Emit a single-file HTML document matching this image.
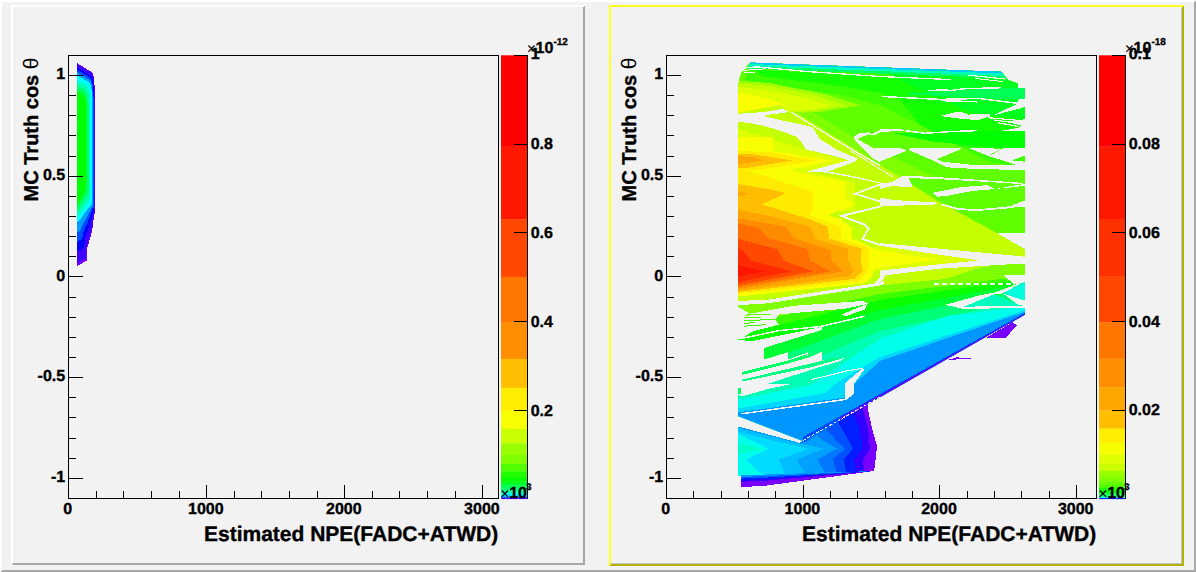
<!DOCTYPE html>
<html><head><meta charset="utf-8"><title>c1</title>
<style>html,body{margin:0;padding:0;background:#f2f2f2;overflow:hidden}svg{display:block}text{stroke:#000;stroke-width:.35px}.n{stroke-width:0}</style>
</head><body>
<svg width="1196" height="572" viewBox="0 0 1196 572" font-family="'Liberation Sans', sans-serif" font-weight="bold" fill="#000" text-rendering="geometricPrecision">
<rect x="0" y="0" width="1196" height="572" fill="#f2f2f2"/>
<g shape-rendering="crispEdges">
<polygon points="0,572 2,570 1194,570 1196,572" fill="#a8a8a8"/>
<polygon points="1196,0 1196,572 1194,570 1194,2" fill="#a8a8a8"/>
<polygon points="0,0 1196,0 1194,2 2,2" fill="#ffffff"/>
<polygon points="0,0 2,2 2,570 0,572" fill="#ffffff"/>
<polygon points="11,565 13,563 583,563 585,565" fill="#a8a8a8"/>
<polygon points="585,5 585,565 583,563 583,7" fill="#a8a8a8"/>
<polygon points="11,5 585,5 583,7 13,7" fill="#ffffff"/>
<polygon points="11,5 13,7 13,563 11,565" fill="#ffffff"/>
<polygon points="609,566 611,564 1182,564 1184,566" fill="#b4b400"/>
<polygon points="1184,5 1184,566 1182,564 1182,7" fill="#b4b400"/>
<polygon points="609,5 1184,5 1182,7 611,7" fill="#ffff1e"/>
<polygon points="609,5 611,7 611,564 609,566" fill="#ffff1e"/>
<rect x="1181" y="8" width="1" height="556" fill="#c2c2d2"/><rect x="611" y="563" width="571" height="1" fill="#c2c2d2"/>
</g>
<g shape-rendering="crispEdges">
<polygon points="77.0,63.0 92.6,72.8 94.0,78.0 95.2,95.0 95.2,213.0 94.0,215.0 93.0,226.0 91.0,236.0 89.0,242.0 87.0,249.0 87.0,260.5 77.0,266.0" fill="#6e00ff"/>
<polygon points="77.0,63.8 92.4,73.5 93.8,78.8 95.0,95.3 95.0,212.3 93.8,214.3 92.6,224.9 90.5,234.5 88.5,240.2 86.5,246.9 86.4,257.7 77.0,262.9" fill="#3c00ff"/>
<polygon points="77.0,67.0 91.7,76.2 93.2,81.6 94.2,96.7 94.2,209.7 93.0,211.7 91.0,220.7 88.7,228.7 86.7,233.8 84.7,239.1 84.2,247.5 77.0,251.5" fill="#0000ff"/>
<polygon points="77.0,69.6 91.2,78.4 92.6,84.0 93.6,97.8 93.6,207.5 92.3,209.5 89.7,217.2 87.2,223.9 85.2,228.2 83.2,232.5 82.3,238.8 77.0,241.8" fill="#004cff"/>
<polygon points="77.0,72.1 90.6,80.6 92.1,86.4 93.0,98.8 93.0,205.4 91.7,207.4 88.4,213.8 85.7,219.3 83.7,223.0 81.7,226.2 80.5,230.5 77.0,232.6" fill="#009dff"/>
<polygon points="77.0,75.0 90.0,83.0 91.5,89.0 92.3,100.0 92.3,203.0 91.0,205.0 87.0,210.0 84.0,214.0 82.0,217.0 80.0,219.0 78.5,221.0 77.0,222.0" fill="#00ffff"/>
<polygon points="77.0,80.1 87.9,86.6 89.5,92.0 90.4,101.5 90.4,198.5 88.9,201.1 85.5,205.8 83.1,209.2 81.4,211.9 79.7,213.9 78.3,215.9 77.0,216.9" fill="#00ffb7"/>
<polygon points="77.0,85.2 85.8,90.2 87.6,95.0 88.5,103.0 88.5,194.0 86.8,197.2 84.0,201.6 82.2,204.4 80.8,206.8 79.4,208.8 78.2,210.8 77.0,211.8" fill="#00ff6f"/>
<polygon points="77.0,89.5 84.0,93.2 86.0,97.5 86.9,104.2 86.9,190.2 85.0,193.9 82.8,198.1 81.5,200.4 80.3,202.6 79.2,204.6 78.1,206.6 77.0,207.6" fill="#00ff33"/>
<polygon points="77.0,92.0 83.0,95.0 85.0,99.0 86.0,105.0 86.0,188.0 84.0,192.0 82.0,196.0 81.0,198.0 80.0,200.0 79.0,202.0 78.0,204.0 77.0,205.0" fill="#00ff04"/>
</g>
<g shape-rendering="crispEdges">
<clipPath id="clipS1"><polygon points="750,62.3 1001.5,71.5 1004.4,75.4 1008,80 1018,83.5 1018,88 1025,88 1025,314.5 803,441 738,416 738,86 739,80 741,73"/></clipPath>
<polygon points="750.0,62.3 1001.5,71.5 1004.4,75.4 1008.0,80.0 1018.0,83.5 1018.0,88.0 1025.0,88.0 1025.0,314.5 803.0,441.0 738.0,416.0 738.0,86.0 739.0,80.0 741.0,73.0" fill="#80ff00"/>
<g clip-path="url(#clipS1)">
<polygon points="738.0,86.0 760.0,91.0 792.0,110.0 880.0,165.0 901.0,177.5 937.7,201.5 997.3,233.3 1025.0,250.0 1025.0,258.0 1000.0,264.0 880.0,285.0 738.0,303.0" fill="#c4ff00"/>
<polygon points="741.0,73.0 750.0,62.3 1001.5,71.5 1018.0,83.5 1025.0,88.0 1025.0,235.0 997.0,233.0 960.0,190.0 900.0,160.0 850.0,135.0 800.0,104.0 760.0,88.0 739.0,84.0" fill="#60ff00"/>
<polygon points="748.0,66.0 760.0,63.0 1001.5,71.5 1025.0,88.0 1025.0,170.0 985.0,160.0 930.0,130.0 880.0,105.0 840.0,95.0 800.0,89.0 745.0,80.0" fill="#3cff00"/>
<polygon points="756.0,70.0 800.0,72.0 880.0,77.0 1001.5,80.0 1025.0,88.0 1025.0,150.0 960.0,146.0 920.0,125.0 900.0,100.0 880.0,93.0 840.0,86.0 800.0,81.0 760.0,76.0" fill="#14ff00"/>
<polygon points="880.0,68.0 1001.5,71.5 1025.0,88.0 1025.0,120.0 970.0,112.0 940.0,98.0 910.0,85.0" fill="#00ff1e"/>
<polygon points="1001.5,88.0 1025.0,88.0 1025.0,98.8 1001.5,98.8 960.0,97.0 900.0,94.0 960.0,90.5" fill="#00ff55"/>
<polygon points="893.0,133.0 1001.0,131.0 1025.0,131.0 1025.0,147.5 1007.0,147.5 965.0,145.0 930.0,141.0" fill="#00ff00"/>
<polygon points="900.0,178.0 1025.0,172.0 1025.0,233.0 997.0,233.0" fill="#60ff00"/>
<polygon points="750.0,62.3 1001.5,71.5 1003.0,73.5 750.0,64.5" fill="#00c8ff"/>
<polygon points="749.0,64.0 1003.0,73.5 1005.0,76.0 748.0,66.5" fill="#00ffbe"/>
<polygon points="748.0,66.0 1005.0,76.0 1007.0,78.5 747.0,68.5" fill="#00ff64"/>
<polygon points="737.7,81.0 768.5,82.9 822.3,93.5 860.8,105.4 822.3,111.7 787.7,113.7 737.7,114.6" fill="#a0ff00"/>
<polygon points="737.7,83.5 768.5,85.8 816.5,95.4 845.4,105.4 816.5,110.8 787.7,112.7 737.7,113.7" fill="#c4ff00"/>
<polygon points="737.7,86.7 768.5,90.6 806.9,98.3 830.0,105.4 810.8,109.8 787.7,111.7 785.8,109.8 778.1,104.6 737.7,113.7" fill="#deff00"/>
<polygon points="737.7,92.5 758.8,96.3 785.8,104.6 778.1,105.4 737.7,112.7" fill="#faff00"/>
<polygon points="738.1,128.7 803.5,149.5 847.5,160.5 808.4,171.5 854.9,182.5 854.9,210.6 738.1,210.6" fill="#deff00"/>
<polygon points="738.1,137.2 772.9,137.2 772.9,150.7 832.9,160.5 783.9,171.5 845.1,182.5 845.1,210.6 738.1,210.6" fill="#faff00"/>
<polygon points="738.1,150.7 771.7,152.5 815.7,160.5 750.9,171.5 738.1,169.0" fill="#ffeb00"/>
<polygon points="738.1,153.7 753.3,154.4 792.5,160.5 744.8,168.4 738.1,168.4" fill="#ffbe00"/>
<polygon points="738.1,156.2 753.3,157.0 764.4,160.5 738.1,164.1" fill="#ffa500"/>
<polygon points="738.1,170.0 750.9,170.0 786.4,170.0 847.5,182.2 836.5,193.2 854.9,204.3 828.0,215.3 841.4,218.9 852.4,228.7 852.4,240.0 854.2,238.8 880.5,251.3 873.0,275.1 865.4,283.3 738.1,296.5" fill="#faff00"/>
<polygon points="738.1,168.8 750.9,171.5 813.3,192.0 813.3,206.7 809.6,215.3 841.4,227.5 841.4,240.0 844.1,239.4 873.0,249.4 866.7,272.6 859.2,281.4 738.1,293.9" fill="#ffeb00"/>
<polygon points="738.0,184.1 771.7,189.6 785.8,193.2 761.9,204.5 808.4,218.9 828.0,226.9 829.2,240.0 830.3,238.8 861.7,248.8 860.4,260.7 862.9,271.4 854.2,278.9 738.1,292.1" fill="#ffbe00"/>
<polygon points="738.0,209.8 771.7,216.5 810.8,226.9 813.3,234.8 815.3,238.8 847.9,248.8 847.9,260.7 854.2,270.1 847.9,276.4 738.1,290.8" fill="#ffa500"/>
<polygon points="738.1,192.0 750.9,193.0 738.1,196.9" fill="#ffa500"/>
<polygon points="738.0,218.3 786.4,226.9 790.0,232.4 795.0,240.0 795.2,238.8 830.9,250.1 831.6,260.7 842.9,271.4 738.1,288.9" fill="#ff8c00"/>
<polygon points="738.0,223.8 758.2,227.5 770.5,240.0 771.4,238.8 807.1,248.8 810.3,260.7 830.3,271.4 738.1,287.1" fill="#ff6e00"/>
<polygon points="738.1,238.8 777.6,249.4 783.9,260.7 812.8,271.4 738.1,285.2" fill="#ff4800"/>
<polygon points="738.1,247.5 742.5,250.1 751.3,260.7 791.4,271.4 738.1,282.0" fill="#ff2a00"/>
<polygon points="738.1,265.1 765.1,271.4 738.1,276.4" fill="#ff1400"/>
<polygon points="730.0,317.0 880.0,284.6 1030.0,271.5 1030.0,460.0 730.0,460.0" fill="#80ff00"/>
<polygon points="876.0,284.0 887.7,275.0 937.7,268.8 985.0,266.0 945.0,279.0 880.0,285.5" fill="#c4ff00"/>
<polygon points="730.0,327.0 880.0,294.0 1030.0,275.5 1030.0,460.0 730.0,460.0" fill="#3cff00"/>
<polygon points="730.0,337.0 880.0,300.0 1030.0,278.5 1030.0,460.0 730.0,460.0" fill="#0aff00"/>
<polygon points="730.0,350.0 880.0,310.0 1030.0,282.0 1030.0,460.0 730.0,460.0" fill="#00ff32"/>
<polygon points="730.0,374.0 880.0,319.0 1030.0,289.0 1030.0,460.0 730.0,460.0" fill="#00ff78"/>
<polygon points="730.0,394.0 880.0,331.0 1030.0,299.0 1030.0,460.0 730.0,460.0" fill="#00ffb4"/>
<polygon points="730.0,401.0 811.0,385.0 880.0,338.5 947.0,316.0 1030.0,305.7 1030.0,460.0 730.0,460.0" fill="#00ffeb"/>
<polygon points="730.0,410.0 826.0,393.0 833.0,385.0 880.0,357.0 1030.0,308.5 1030.0,460.0 730.0,460.0" fill="#00d7ff"/>
<polygon points="730.0,413.5 845.0,397.5 853.0,385.0 880.0,361.0 1030.0,310.0 1030.0,460.0 730.0,460.0" fill="#0096ff"/>
<polygon points="803.0,437.0 1025.0,312.9 1025.0,315.0 803.0,442.0" fill="#0046ff"/>
<polygon points="840.0,417.8 1025.0,313.7 1025.0,315.0 840.0,421.0" fill="#6e00ff"/>
<polygon points="735.0,114.1 747.2,113.2 764.4,112.0 782.7,108.8 788.8,112.2 771.7,114.4 763.1,116.1 786.4,121.4 808.4,125.9 813.3,128.4 819.4,138.5 836.5,149.5 854.9,157.5 854.9,161.2 847.5,159.9 832.9,155.7 805.9,149.5 801.1,141.6 796.2,136.7 781.5,131.2 763.1,125.7 747.2,122.6 735.0,122.0" fill="#f2f2f2"/>
<polyline points="791.3,112.2 855.0,151.4 880.0,165.5" fill="none" stroke="#f2f2f2" stroke-width="1.4"/>
<polyline points="850.0,150.5 893.0,177.0" fill="none" stroke="#f2f2f2" stroke-width="1.0"/>
<polygon points="807.2,171.5 848.8,160.2 857.3,157.0 857.3,158.6 854.9,161.7 826.7,172.1" fill="#f2f2f2"/>
<polygon points="807.2,171.5 826.7,171.2 854.9,176.4 880.6,182.5 880.6,183.7 854.9,177.8 826.7,172.7" fill="#f2f2f2"/>
<polygon points="853.8,136.7 859.9,133.0 868.5,132.4 872.1,134.3 880.7,129.4 901.5,129.1 904.5,130.6 881.3,132.0 873.3,135.5 868.5,134.3 857.4,139.1 874.6,148.9 875.2,157.5 880.7,161.2 879.5,162.1 873.3,158.7 855.0,141.0" fill="#f2f2f2"/>
<polyline points="904.5,130.6 921.7,132.8 925.3,133.3 950.4,131.6 977.3,130.6" fill="none" stroke="#f2f2f2" stroke-width="1.5"/>
<polygon points="875.2,148.3 875.2,158.1 880.7,161.2 906.4,150.8 903.9,148.9 896.6,148.0" fill="#f2f2f2"/>
<polygon points="908.8,150.2 933.3,160.6 961.4,148.9 960.2,148.3 910.7,148.3" fill="#f2f2f2"/>
<polygon points="933.3,160.6 946.7,167.3 977.3,169.1 1026.3,170.0 1026.3,166.1 974.9,165.1 943.1,161.8 935.7,158.7" fill="#f2f2f2"/>
<polygon points="940.6,115.9 955.3,112.2 962.6,112.2 968.8,114.7 977.3,113.7 989.6,114.4 989.6,116.5 977.3,120.2 956.5,118.3 948.0,117.1" fill="#f2f2f2"/>
<polyline points="940.6,100.6 977.3,101.8" fill="none" stroke="#f2f2f2" stroke-width="1.5"/>
<polyline points="928.5,90.8 940.0,90.0 951.5,90.4 963.1,88.8 1001.5,87.7" fill="none" stroke="#f2f2f2" stroke-width="1.5"/>
<polyline points="882.3,96.5 940.0,99.4 978.5,98.5 1017.9,103.3" fill="none" stroke="#f2f2f2" stroke-width="1.5"/>
<polygon points="1018.8,98.5 1026.5,98.5 1026.5,106.7 1014.0,105.4 1017.9,103.5" fill="#f2f2f2"/>
<polygon points="991.9,115.8 1014.0,105.4 1026.5,106.7" fill="#f2f2f2"/>
<polyline points="988.1,117.7 1020.8,120.6" fill="none" stroke="#f2f2f2" stroke-width="1.2"/>
<polyline points="993.8,120.0 1020.8,123.5" fill="none" stroke="#f2f2f2" stroke-width="1.2"/>
<polyline points="997.7,122.7 1018.8,126.5" fill="none" stroke="#f2f2f2" stroke-width="1.2"/>
<polygon points="1026.5,118.7 1026.5,130.8 1001.5,130.8 1018.8,127.7 1020.8,125.4 1003.5,121.2 1020.8,120.0" fill="#f2f2f2"/>
<polygon points="1026.5,147.5 1026.5,154.8 1012.1,160.4 1026.5,161.9 1026.5,170.6 1020.8,166.2 989.0,156.2 1001.5,148.8 1007.3,147.5" fill="#f2f2f2"/>
<polygon points="961.2,145.6 966.9,147.5 1001.5,148.8 991.0,154.2 989.0,156.2 968.8,148.1" fill="#f2f2f2"/>
<polyline points="753.0,66.5 807.0,71.5 880.0,76.5 951.0,79.6" fill="none" stroke="#f2f2f2" stroke-width="1.3"/>
<polyline points="968.5,75.2 1005.0,79.0" fill="none" stroke="#f2f2f2" stroke-width="1.2"/>
<polyline points="975.0,78.5 1003.0,81.5" fill="none" stroke="#f2f2f2" stroke-width="1.0"/>
<polyline points="744.4,68.1 758.8,66.9" fill="none" stroke="#f2f2f2" stroke-width="1.0"/>
<polyline points="741.5,70.4 766.5,68.8" fill="none" stroke="#f2f2f2" stroke-width="1.0"/>
<polyline points="743.5,72.7 755.0,72.7" fill="none" stroke="#f2f2f2" stroke-width="1.0"/>
<polyline points="881.9,183.8 855.0,193.8 881.9,201.9" fill="none" stroke="#f2f2f2" stroke-width="1.8"/>
<polyline points="881.9,206.0 841.5,216.0 864.6,224.6 868.5,228.5 862.7,239.0 881.9,245.4" fill="none" stroke="#f2f2f2" stroke-width="2.0"/>
<polygon points="941.5,164.0 976.2,168.5 1023.3,169.2 1023.3,165.0 976.2,165.0" fill="#f2f2f2"/>
<polygon points="880.0,183.3 891.5,182.3 901.2,176.5 905.0,175.6 943.5,177.5 972.3,179.4 1023.3,182.9 1023.3,184.2 972.3,181.0 943.5,179.4 908.8,178.1 912.7,187.1 891.5,186.2 880.0,189.0" fill="#f2f2f2"/>
<polygon points="931.9,192.9 960.8,187.1 987.7,185.2 995.4,189.0 972.3,191.0 947.3,195.8 937.7,196.7" fill="#f2f2f2"/>
<polygon points="995.4,189.0 1026.2,183.5 1026.2,185.8" fill="#f2f2f2"/>
<polygon points="880.0,197.7 893.5,200.0 935.8,202.5 937.7,204.4 895.4,205.8 880.0,206.3" fill="#f2f2f2"/>
<polyline points="941.5,204.4 956.9,208.8 976.2,210.2 1010.8,207.3 1023.3,203.5" fill="none" stroke="#f2f2f2" stroke-width="1.8"/>
<polygon points="1023.3,200.8 1026.2,200.8 1026.2,206.9 1023.3,206.9 1010.8,207.7 995.4,208.8 1010.8,205.8" fill="#f2f2f2"/>
<polygon points="880.0,243.1 1023.3,256.5 1026.2,256.5 1026.2,263.5 1018.5,263.7 937.7,268.8 887.7,275.0 880.0,276.5 880.0,269.8 978.1,260.6 880.0,245.8" fill="#f2f2f2"/>
<polygon points="874.0,284.0 880.0,277.0 884.0,269.5 889.0,269.5 884.0,278.0 878.0,286.0" fill="#f2f2f2"/>
<polygon points="997.3,233.3 1026.2,233.3 1026.2,250.0" fill="#f2f2f2"/>
<polygon points="874.2,245.4 978.1,260.2 874.2,271.2" fill="#deff00"/>
<polygon points="868.5,248.8 937.7,259.2 868.5,269.8" fill="#faff00"/>
<polygon points="737.7,301.0 768.5,299.6 822.3,291.3 880.0,282.7 883.8,280.8 883.8,284.2 880.0,285.6 822.3,294.6 768.5,303.3 737.7,305.2" fill="#f2f2f2"/>
<polygon points="751.2,313.5 793.5,305.8 862.7,301.0 868.5,303.8 845.4,308.7 778.1,314.4 755.0,316.3" fill="#f2f2f2"/>
<polygon points="841.5,314.4 867.5,303.8 864.6,309.6 845.4,316.3" fill="#f2f2f2"/>
<polyline points="741.5,338.5 778.1,330.8 820.4,326.5 864.6,316.3" fill="none" stroke="#f2f2f2" stroke-width="1.5"/>
<polygon points="743.5,315.8 779.0,314.0 775.2,319.6 779.0,324.6 753.1,331.2 741.5,338.5 736.7,339.4 736.7,315.8" fill="#f2f2f2"/>
<polyline points="744.4,315.0 771.3,314.6" fill="none" stroke="#60ff00" stroke-width="1.0"/>
<polyline points="744.4,317.7 760.8,317.3" fill="none" stroke="#60ff00" stroke-width="1.0"/>
<polyline points="744.4,320.4 776.2,319.6" fill="none" stroke="#3cff00" stroke-width="1.0"/>
<polyline points="744.4,323.1 755.0,322.9" fill="none" stroke="#3cff00" stroke-width="1.0"/>
<polyline points="744.4,326.2 766.5,324.6" fill="none" stroke="#3cff00" stroke-width="1.0"/>
<polygon points="736.7,305.8 749.2,313.5 743.5,316.3 743.5,327.9 736.7,329.8" fill="#f2f2f2"/>
<polygon points="736.7,327.9 744.4,327.9 741.5,338.5 736.7,339.4" fill="#f2f2f2"/>
<polygon points="736.7,339.4 751.2,341.3 822.3,326.9 822.3,329.8 763.7,348.1 763.7,359.6 741.5,366.9 736.7,367.3" fill="#f2f2f2"/>
<polygon points="736.7,359.6 763.7,359.6 787.7,352.3 787.7,359.6 807.9,352.3 807.9,358.1 822.3,351.5 822.3,360.6 845.4,357.7 835.8,363.5 764.6,385.0 736.7,385.0" fill="#f2f2f2"/>
<polygon points="741.5,372.1 787.7,360.6 806.9,354.2 807.9,357.7 787.7,363.5 741.5,375.0" fill="#00ff64"/>
<polygon points="741.5,379.8 778.1,371.2 833.8,358.1 845.4,357.7 810.8,367.3 741.5,381.7" fill="#00ff82"/>
<polygon points="764.6,385.0 812.7,369.2 845.4,359.6 837.7,365.4 787.7,385.0" fill="#00ffb4"/>
<polygon points="845.4,382.7 862.7,368.3 864.6,369.2 853.1,385.0 844.4,385.0" fill="#f2f2f2"/>
<polyline points="810.8,379.8 845.4,371.2 862.7,368.3" fill="none" stroke="#f2f2f2" stroke-width="1.2"/>
<polyline points="741.5,413.8 845.4,399.4 853.1,393.7 853.1,384.0" fill="none" stroke="#f2f2f2" stroke-width="1.5"/>
<polygon points="845.4,384.0 853.1,384.0 853.1,393.7 845.4,398.8" fill="#f2f2f2"/>
<polygon points="736.7,393.7 741.5,396.5 768.5,388.8 791.5,384.0 736.7,384.0" fill="#f2f2f2"/>
<polygon points="737.7,387.9 740.6,387.9 740.6,393.7 737.7,393.7" fill="#00ff64"/>
<line x1="933.8" y1="283.7" x2="1014.6" y2="284.2" stroke="#f2f2f2" stroke-width="2" stroke-dasharray="5 3"/>
<polygon points="1003.1,293.3 1026.2,280.8 1026.2,301.3" fill="#00ffdc"/>
<polygon points="962.7,306.9 983.8,298.1 993.5,294.2 1018.8,305.2" fill="#00ffbe"/>
<polygon points="1003.1,275.0 1026.2,275.0 1026.2,281.7 1014.6,284.6" fill="#f2f2f2"/>
<polygon points="945.4,304.8 980.0,295.2 995.4,292.3 1024.2,281.3 1003.1,293.3 993.5,294.6 983.8,298.5 962.7,307.1" fill="#f2f2f2"/>
<polygon points="945.4,304.8 962.7,306.7 1023.3,305.8 1026.2,306.7 1026.2,308.1 962.7,308.8" fill="#f2f2f2"/>
<polygon points="1003.1,293.7 1026.2,301.0 1026.2,306.2 1018.5,305.0" fill="#f2f2f2"/>
</g>
<polygon points="737.7,426.3 799.2,442.7 803.1,441.3 867.5,404.8 867.5,407.5 872.3,429.2 877.1,446.5 874.2,471.0 764.8,485.8 740.6,487.1 740.6,475.4 737.7,475.4" fill="#7800ff"/>
<polygon points="737.7,426.3 799.2,442.7 803.1,441.3 862.7,407.7 865.6,418.7 868.5,431.2 869.8,448.7 862.7,460.0 864.6,471.9 737.7,476.3" fill="#3200ff"/>
<polygon points="737.7,426.3 799.2,442.7 803.1,441.3 853.1,413.1 859.2,426.3 861.7,440.0 862.5,448.7 854.0,460.0 856.0,472.1 737.7,476.3" fill="#001eff"/>
<polygon points="737.7,426.3 799.2,442.7 803.7,441.0 837.7,421.7 845.4,435.0 853.1,448.7 843.5,459.0 846.3,472.5 737.7,476.3" fill="#0050ff"/>
<polygon points="737.7,426.3 799.2,442.7 804.6,441.2 826.2,428.8 835.8,440.0 845.0,448.7 832.9,459.0 836.7,472.7 737.7,476.3" fill="#0078ff"/>
<polygon points="737.7,426.3 799.2,442.7 806.9,442.3 816.5,435.4 822.3,440.0 837.1,448.7 817.5,459.4 825.2,473.1 737.7,476.3" fill="#00a0ff"/>
<polygon points="737.7,427.7 789.6,441.5 823.7,448.7 796.9,459.4 805.0,473.7 737.7,476.3" fill="#00beff"/>
<polygon points="737.7,431.2 770.2,440.0 808.8,448.7 779.0,459.4 784.8,474.2 737.7,476.3" fill="#00dcff"/>
<polygon points="737.7,434.0 768.8,448.7 746.0,459.4 762.1,475.0 737.7,476.3" fill="#00ffeb"/>
<polygon points="737.7,442.7 762.1,448.7 737.7,454.6" fill="#00ffc8"/>
<polygon points="740.6,475.3 764.8,474.5 874.2,471.0 874.2,471.0 764.8,485.8 740.6,487.1" fill="#0096ff"/>
<polygon points="740.6,476.9 764.8,476.1 874.2,471.0 874.2,471.0 764.8,485.8 740.6,487.1" fill="#005aff"/>
<polygon points="740.6,478.6 764.8,477.7 874.2,471.0 874.2,471.0 764.8,485.8 740.6,487.1" fill="#001eff"/>
<polygon points="740.6,480.3 764.8,479.2 874.2,471.0 874.2,471.0 764.8,485.8 740.6,487.1" fill="#3200ff"/>
<polygon points="740.6,481.9 764.8,480.8 874.2,471.0 874.2,471.0 764.8,485.8 740.6,487.1" fill="#7800ff"/>
<polygon points="986.7,337.5 1006.0,337.5 1016.9,325.4 1012.7,322.1" fill="#7800ff"/>
<polygon points="949.2,359.6 979.0,359.2 956.9,357.3 952.1,358.7" fill="#7800ff"/>
<line x1="803" y1="440.6" x2="880" y2="396.9" stroke="#f2f2f2" stroke-width="1" stroke-dasharray="3 2"/>
</g>
<rect x="501.0" y="55.30" width="26.0" height="91.61" fill="#ff0000"/>
<rect x="501.0" y="146.61" width="26.0" height="72.83" fill="#ff1800"/>
<rect x="501.0" y="219.13" width="26.0" height="57.91" fill="#ff4700"/>
<rect x="501.0" y="276.74" width="26.0" height="46.06" fill="#ff7700"/>
<rect x="501.0" y="322.51" width="26.0" height="36.65" fill="#ff8f00"/>
<rect x="501.0" y="358.86" width="26.0" height="29.17" fill="#ffbe00"/>
<rect x="501.0" y="387.73" width="26.0" height="23.24" fill="#ffee00"/>
<rect x="501.0" y="410.67" width="26.0" height="18.52" fill="#f8ff00"/>
<rect x="501.0" y="428.88" width="26.0" height="14.77" fill="#c9ff00"/>
<rect x="501.0" y="443.35" width="26.0" height="11.79" fill="#99ff00"/>
<rect x="501.0" y="454.85" width="26.0" height="9.43" fill="#81ff00"/>
<rect x="501.0" y="463.98" width="26.0" height="7.55" fill="#52ff00"/>
<rect x="501.0" y="471.23" width="26.0" height="6.06" fill="#22ff00"/>
<rect x="501.0" y="476.99" width="26.0" height="4.88" fill="#0aff00"/>
<rect x="501.0" y="481.57" width="26.0" height="3.93" fill="#00ff25"/>
<rect x="501.0" y="485.21" width="26.0" height="3.19" fill="#00ff55"/>
<rect x="501.0" y="488.09" width="26.0" height="2.59" fill="#00ff6d"/>
<rect x="501.0" y="490.39" width="26.0" height="2.12" fill="#00ff9c"/>
<rect x="501.0" y="492.21" width="26.0" height="1.75" fill="#00ffcc"/>
<rect x="501.0" y="493.66" width="26.0" height="1.45" fill="#00ffe4"/>
<rect x="501.0" y="494.80" width="26.0" height="1.21" fill="#00ebff"/>
<rect x="501.0" y="495.72" width="26.0" height="1.03" fill="#00bbff"/>
<rect x="501.0" y="496.44" width="26.0" height="0.88" fill="#00a3ff"/>
<rect x="501.0" y="497.02" width="26.0" height="0.76" fill="#0074ff"/>
<rect x="501.0" y="497.48" width="26.0" height="0.66" fill="#0044ff"/>
<rect x="501.0" y="497.84" width="26.0" height="0.59" fill="#002cff"/>
<rect x="501.0" y="498.13" width="26.0" height="0.53" fill="#0300ff"/>
<rect x="501.0" y="498.36" width="26.0" height="0.48" fill="#3300ff"/>
<rect x="501.0" y="498.54" width="26.0" height="0.44" fill="#4b00ff"/>
<rect x="501.0" y="498.69" width="26.0" height="0.41" fill="#7a00ff"/>
<path d="M527.5 55.0V499.0M528.0 410.5H514.0M528.0 321.5H514.0M528.0 232.5H514.0M528.0 144.5H514.0M528.0 55.5H514.0" fill="none" stroke="#000" stroke-width="1" shape-rendering="crispEdges"/>
<g font-size="16"><text x="530.7" y="415.7">0.2</text><text x="530.7" y="326.9">0.4</text><text x="530.7" y="238.1">0.6</text><text x="530.7" y="149.3">0.8</text><text x="530.7" y="58.7">1</text></g>
<g font-size="16"><text x="526.8" y="53.6" class="n" font-weight="normal">×</text><text x="535.6" y="53.1">10</text><text x="553.4" y="45" font-size="10">-12</text></g>
<g font-size="16"><text x="500.2" y="498.6" class="n" font-weight="normal">×</text><text x="509.2" y="498">10</text><text x="526.2" y="489.7" font-size="9.5">3</text></g>
<rect x="1099.0" y="55.30" width="26.0" height="91.52" fill="#ff0000"/>
<rect x="1099.0" y="146.52" width="26.0" height="72.76" fill="#ff1800"/>
<rect x="1099.0" y="218.99" width="26.0" height="57.86" fill="#ff3000"/>
<rect x="1099.0" y="276.55" width="26.0" height="46.02" fill="#ff4700"/>
<rect x="1099.0" y="322.27" width="26.0" height="36.62" fill="#ff7700"/>
<rect x="1099.0" y="358.58" width="26.0" height="29.15" fill="#ff8f00"/>
<rect x="1099.0" y="387.43" width="26.0" height="23.21" fill="#ffa700"/>
<rect x="1099.0" y="410.35" width="26.0" height="18.50" fill="#ffbe00"/>
<rect x="1099.0" y="428.55" width="26.0" height="14.76" fill="#ffee00"/>
<rect x="1099.0" y="443.01" width="26.0" height="11.78" fill="#f8ff00"/>
<rect x="1099.0" y="454.49" width="26.0" height="9.42" fill="#e0ff00"/>
<rect x="1099.0" y="463.61" width="26.0" height="7.55" fill="#c9ff00"/>
<rect x="1099.0" y="470.86" width="26.0" height="6.06" fill="#99ff00"/>
<rect x="1099.0" y="476.61" width="26.0" height="4.87" fill="#81ff00"/>
<rect x="1099.0" y="481.19" width="26.0" height="3.93" fill="#69ff00"/>
<rect x="1099.0" y="484.82" width="26.0" height="3.18" fill="#52ff00"/>
<rect x="1099.0" y="487.70" width="26.0" height="2.59" fill="#22ff00"/>
<rect x="1099.0" y="489.99" width="26.0" height="2.12" fill="#0aff00"/>
<rect x="1099.0" y="491.81" width="26.0" height="1.75" fill="#00ff0e"/>
<rect x="1099.0" y="493.26" width="26.0" height="1.45" fill="#00ff25"/>
<rect x="1099.0" y="494.41" width="26.0" height="1.21" fill="#00ff55"/>
<rect x="1099.0" y="495.32" width="26.0" height="1.02" fill="#00ff6d"/>
<rect x="1099.0" y="496.05" width="26.0" height="0.88" fill="#00ff85"/>
<rect x="1099.0" y="496.62" width="26.0" height="0.76" fill="#00ff9c"/>
<rect x="1099.0" y="497.08" width="26.0" height="0.66" fill="#00ffcc"/>
<rect x="1099.0" y="497.44" width="26.0" height="0.59" fill="#00ffe4"/>
<rect x="1099.0" y="497.73" width="26.0" height="0.53" fill="#00fffc"/>
<rect x="1099.0" y="497.96" width="26.0" height="0.48" fill="#00ebff"/>
<rect x="1099.0" y="498.14" width="26.0" height="0.44" fill="#00bbff"/>
<rect x="1099.0" y="498.29" width="26.0" height="0.41" fill="#00a3ff"/>
<rect x="1099.0" y="498.40" width="26.0" height="0.39" fill="#008bff"/>
<rect x="1099.0" y="498.49" width="26.0" height="0.37" fill="#0074ff"/>
<rect x="1099.0" y="498.56" width="26.0" height="0.36" fill="#0044ff"/>
<rect x="1099.0" y="498.62" width="26.0" height="0.35" fill="#002cff"/>
<rect x="1099.0" y="498.67" width="26.0" height="0.34" fill="#0014ff"/>
<rect x="1099.0" y="498.70" width="26.0" height="0.33" fill="#0300ff"/>
<rect x="1099.0" y="498.73" width="26.0" height="0.32" fill="#3300ff"/>
<path d="M1125.5 55.0V499.0M1126.0 410.5H1112.0M1126.0 321.5H1112.0M1126.0 232.5H1112.0M1126.0 144.5H1112.0M1126.0 55.5H1112.0" fill="none" stroke="#000" stroke-width="1" shape-rendering="crispEdges"/>
<g font-size="16"><text x="1128.7" y="415.3">0.02</text><text x="1128.7" y="326.6">0.04</text><text x="1128.7" y="237.9">0.06</text><text x="1128.7" y="149.2">0.08</text><text x="1128.7" y="58.7">0.1</text></g>
<g font-size="16"><text x="1124.8" y="53.6" class="n" font-weight="normal">×</text><text x="1133.6" y="53.1">10</text><text x="1151.4" y="45" font-size="10">-18</text></g>
<g font-size="16"><text x="1098.2" y="498.6" class="n" font-weight="normal">×</text><text x="1107.2" y="498">10</text><text x="1124.2" y="489.7" font-size="9.5">3</text></g>
<path d="M68.5 55.5H498.5V498.5H68.5ZM96.5 498.5V491.0M123.5 498.5V491.0M151.5 498.5V491.0M179.5 498.5V491.0M206.5 498.5V485.0M234.5 498.5V491.0M261.5 498.5V491.0M289.5 498.5V491.0M317.5 498.5V491.0M344.5 498.5V485.0M372.5 498.5V491.0M399.5 498.5V491.0M427.5 498.5V491.0M455.5 498.5V491.0M482.5 498.5V485.0M68.5 478.5H83.0M68.5 458.5H76.0M68.5 438.5H76.0M68.5 417.5H76.0M68.5 397.5H76.0M68.5 377.5H83.0M68.5 357.5H76.0M68.5 337.5H76.0M68.5 317.5H76.0M68.5 297.5H76.0M68.5 276.5H83.0M68.5 256.5H76.0M68.5 236.5H76.0M68.5 216.5H76.0M68.5 196.5H76.0M68.5 176.5H83.0M68.5 156.5H76.0M68.5 135.5H76.0M68.5 115.5H76.0M68.5 95.5H76.0M68.5 75.5H83.0" fill="none" stroke="#000" stroke-width="1" shape-rendering="crispEdges"/>
<g font-size="16"><text x="65.2" y="79.3" text-anchor="end">1</text><text x="65.2" y="180.0" text-anchor="end">0.5</text><text x="65.2" y="280.7" text-anchor="end">0</text><text x="65.2" y="381.4" text-anchor="end">-0.5</text><text x="65.2" y="482.1" text-anchor="end">-1</text><text x="67.8" y="514" text-anchor="middle">0</text><text x="205.8" y="514" text-anchor="middle">1000</text><text x="343.8" y="514" text-anchor="middle">2000</text><text x="481.9" y="514" text-anchor="middle">3000</text></g>
<text x="498.2" y="540.8" text-anchor="end" font-size="21">Estimated NPE(FADC+ATWD)</text>
<text transform="translate(37.7 57.5) rotate(-90)" text-anchor="end" font-size="20">MC Truth cos <tspan class="n" font-weight="normal" font-size="21">θ</tspan></text>
<path d="M666.5 55.5H1096.5V498.5H666.5ZM693.5 498.5V491.0M721.5 498.5V491.0M748.5 498.5V491.0M775.5 498.5V491.0M803.5 498.5V485.0M830.5 498.5V491.0M857.5 498.5V491.0M885.5 498.5V491.0M912.5 498.5V491.0M939.5 498.5V485.0M967.5 498.5V491.0M994.5 498.5V491.0M1021.5 498.5V491.0M1049.5 498.5V491.0M1076.5 498.5V485.0M666.5 478.5H681.0M666.5 458.5H674.0M666.5 438.5H674.0M666.5 417.5H674.0M666.5 397.5H674.0M666.5 377.5H681.0M666.5 357.5H674.0M666.5 337.5H674.0M666.5 317.5H674.0M666.5 297.5H674.0M666.5 276.5H681.0M666.5 256.5H674.0M666.5 236.5H674.0M666.5 216.5H674.0M666.5 196.5H674.0M666.5 176.5H681.0M666.5 156.5H674.0M666.5 135.5H674.0M666.5 115.5H674.0M666.5 95.5H674.0M666.5 75.5H681.0" fill="none" stroke="#000" stroke-width="1" shape-rendering="crispEdges"/>
<g font-size="16"><text x="663.2" y="79.3" text-anchor="end">1</text><text x="663.2" y="180.0" text-anchor="end">0.5</text><text x="663.2" y="280.7" text-anchor="end">0</text><text x="663.2" y="381.4" text-anchor="end">-0.5</text><text x="663.2" y="482.1" text-anchor="end">-1</text><text x="665.8" y="514" text-anchor="middle">0</text><text x="802.4" y="514" text-anchor="middle">1000</text><text x="939.0" y="514" text-anchor="middle">2000</text><text x="1075.7" y="514" text-anchor="middle">3000</text></g>
<text x="1096.2" y="540.8" text-anchor="end" font-size="21">Estimated NPE(FADC+ATWD)</text>
<text transform="translate(635.7 57.5) rotate(-90)" text-anchor="end" font-size="20">MC Truth cos <tspan class="n" font-weight="normal" font-size="21">θ</tspan></text>
</svg>
</body></html>
